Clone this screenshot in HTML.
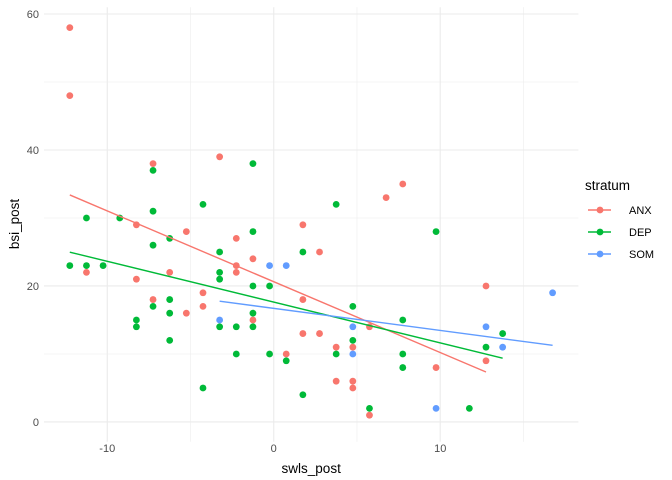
<!DOCTYPE html>
<html><head><meta charset="utf-8"><style>
body{margin:0;background:#fff;}
svg{display:block;font-family:"Liberation Sans",sans-serif;}
</style></head><body>
<svg id="c" width="672" height="480"></svg>
<script>
const anxX=[-12.25,-12.25,-11.25,-8.25,-8.25,-7.25,-7.25,-6.25,-5.25,-5.25,-4.25,-4.25,-3.25,-2.25,-2.25,-2.25,-1.25,-1.25,0.75,1.75,1.75,1.75,2.75,2.75,3.75,3.75,4.75,4.75,4.75,5.75,5.75,6.75,7.75,9.75,12.75,12.75];
const anxY=[58,48,22,29,21,38,18,22,28,16,19,17,39,27,23,22,24,15,10,29,18,13,25,13,11,6,11,6,5,14,1,33,35,8,20,9];
const depX=[-1.25,-7.25,-4.25,-7.25,-11.25,-9.25,-6.25,-1.25,-7.25,-3.25,1.75,-12.25,-11.25,-10.25,-3.25,-3.25,-1.25,-0.25,-6.25,-7.25,-6.25,-8.25,-8.25,-3.25,-2.25,-1.25,-1.25,-6.25,-2.25,-0.25,0.75,-4.25,1.75,3.75,9.75,4.75,7.75,4.75,3.75,7.75,7.75,12.75,13.75,5.75,11.75];
const depY=[38,37,32,31,30,30,27,28,26,25,25,23,23,23,22,21,20,20,18,17,16,15,14,14,14,16,14,12,10,10,9,5,4,32,28,17,15,12,10,10,8,11,13,2,2];
const somX=[-3.25,-0.25,0.75,4.75,4.75,9.75,12.75,13.75,16.75];
const somY=[15,23,23,14,10,2,14,11,19];
const xTicks=[-10,0,10];
const yTicks=[0,20,40,60];
const groups=[["ANX",anxX,anxY,"#F8766D"],["DEP",depX,depY,"#00BA38"],["SOM",somX,somY,"#619CFF"]];

const NS="http://www.w3.org/2000/svg";
const svg=document.getElementById('c');
const xmin=-13.8,xmax=18.3,ymin=-2.9,ymax=61;
const L=44,R=578.4,T=7.2,B=441.7;
const sx=v=>L+(v-xmin)/(xmax-xmin)*(R-L);
const sy=v=>B-(v-ymin)/(ymax-ymin)*(B-T);
function mk(tag,attrs,parent){const e=document.createElementNS(NS,tag);for(const k in attrs)e.setAttribute(k,attrs[k]);(parent||svg).appendChild(e);return e;}

const grid=mk('g',{});


for(let v=-15;v<=20;v+=5){if(v<xmin||v>xmax)continue;const major=v%10===0;mk('line',{x1:sx(v),x2:sx(v),y1:T,y2:B,stroke:'#ebebeb','stroke-width':major?1.1:0.55},grid);}
for(let v=0;v<=60;v+=10){const major=v%20===0;mk('line',{x1:L,x2:R,y1:sy(v),y2:sy(v),stroke:'#ebebeb','stroke-width':major?1.1:0.55},grid);}

xTicks.forEach(v=>{const t=mk('text',{x:sx(v),y:452,'text-anchor':'middle','font-size':11,fill:'#4d4d4d'});t.textContent=v;

});
yTicks.forEach(v=>{const t=mk('text',{x:39,y:sy(v)+4,'text-anchor':'end','font-size':11,fill:'#4d4d4d'});t.textContent=v;

});

groups.forEach(([name,xs,ys,col])=>{
  const g=mk('g',{});
  
  
  xs.forEach((x,i)=>{const c=mk('circle',{cx:sx(x),cy:sy(ys[i]),r:3.4,fill:col},g);
    
    });
});
groups.forEach(([name,xs,ys,col])=>{
  const n=xs.length;let mx=0,my=0;xs.forEach((x,i)=>{mx+=x;my+=ys[i];});mx/=n;my/=n;
  let sxy=0,sxx=0;xs.forEach((x,i)=>{sxy+=(x-mx)*(ys[i]-my);sxx+=(x-mx)*(x-mx);});
  const b=sxy/sxx,a=my-b*mx;const x0=Math.min(...xs),x1=Math.max(...xs);
  const l=mk('line',{x1:sx(x0),y1:sy(a+b*x0),x2:sx(x1),y2:sy(a+b*x1),stroke:col,'stroke-width':1.4});
  
  
});

const xt=mk('text',{x:(L+R)/2,y:473,'text-anchor':'middle','font-size':13.5,fill:'#000'});xt.textContent='swls_post';


const yt=mk('text',{x:0,y:0,transform:'translate(19,224) rotate(-90)','text-anchor':'middle','font-size':13.5,fill:'#000'});yt.textContent='bsi_post';



const lg=mk('g',{});


const lt=mk('text',{x:585,y:190,'font-size':13.5,fill:'#000'},lg);lt.textContent='stratum';


groups.forEach(([name,,,col],i)=>{
  const y=210+i*22;
  const e=mk('g',{},lg);
  
  
  mk('line',{x1:588,x2:611,y1:y,y2:y,stroke:col,'stroke-width':1.4},e);
  mk('circle',{cx:600,cy:y,r:3.4,fill:col},e);
  const t=mk('text',{x:629,y:y+4,'font-size':11,fill:'#000'},e);t.textContent=name;
});
</script>
</body></html>
